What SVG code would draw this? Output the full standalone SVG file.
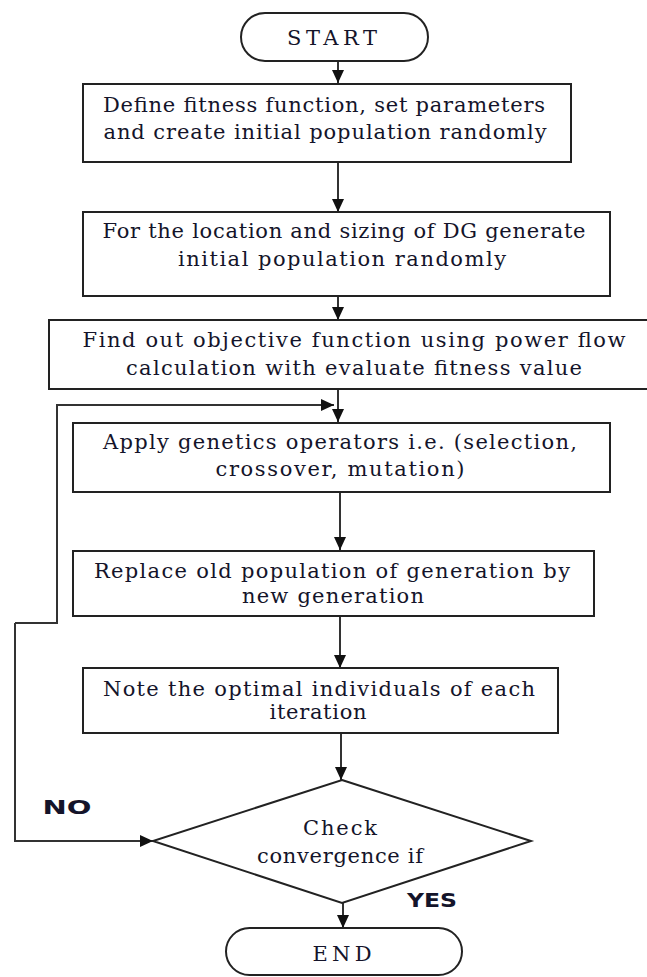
<svg xmlns="http://www.w3.org/2000/svg" width="647" height="977" viewBox="0 0 647 977">
<style>
.box{fill:#fff;stroke:#222;stroke-width:2}
.t{font-family:'DejaVu Serif','Liberation Serif',serif;font-size:21px;fill:#14142a;text-anchor:middle}
.lbl{font-family:'DejaVu Sans','Liberation Sans',sans-serif;font-size:19px;font-weight:bold;fill:#14142a;text-anchor:middle}
.c{fill:none;stroke:#333;stroke-width:2}
</style>
<defs>
<marker id="ah" markerUnits="userSpaceOnUse" markerWidth="13" markerHeight="12" refX="13" refY="6" orient="auto">
<path d="M0,0 L13,6 L0,12 z" fill="#111"/>
</marker>
</defs>
<rect width="647" height="977" fill="#fff"/>
<g id="connectors">
<line class="c" x1="338" y1="61" x2="338" y2="83" marker-end="url(#ah)"/>
<line class="c" x1="338" y1="162" x2="338" y2="212" marker-end="url(#ah)"/>
<line class="c" x1="338" y1="296" x2="338" y2="320" marker-end="url(#ah)"/>
<line class="c" x1="338" y1="389" x2="338" y2="422" marker-end="url(#ah)"/>
<line class="c" x1="340" y1="492" x2="340" y2="550" marker-end="url(#ah)"/>
<line class="c" x1="340" y1="616" x2="340" y2="668" marker-end="url(#ah)"/>
<line class="c" x1="341" y1="733" x2="341" y2="780" marker-end="url(#ah)"/>
<line class="c" x1="343" y1="903" x2="343" y2="928" marker-end="url(#ah)"/>
<path class="c" d="M15,623 L15,841 L153,841" marker-end="url(#ah)"/>
<path class="c" d="M15,623 L57,623 L57,405 L334,405" marker-end="url(#ah)" stroke="#555"/>
</g>
<g id="start" font-family="DejaVu Serif, serif">
<rect class="box" x="241" y="13" width="187" height="48" rx="24"/>
<text class="t" x="332" y="45" textLength="90" lengthAdjust="spacing">START</text>
</g>
<g id="n1" font-family="DejaVu Serif, serif">
<rect class="box" x="83" y="84" width="488" height="78"/>
<text class="t" x="324" y="112" textLength="442" lengthAdjust="spacing">Define fitness function, set parameters</text>
<text class="t" x="325" y="139" textLength="443" lengthAdjust="spacing">and create initial population randomly</text>
</g>
<g id="n2" font-family="DejaVu Serif, serif">
<rect class="box" x="83" y="212" width="527" height="84"/>
<text class="t" x="344" y="238" textLength="483" lengthAdjust="spacing">For the location and sizing of DG generate</text>
<text class="t" x="342" y="266" textLength="328" lengthAdjust="spacing">initial population randomly</text>
</g>
<g id="n3" font-family="DejaVu Serif, serif">
<rect class="box" x="49" y="320" width="620" height="69"/>
<text class="t" x="354" y="347" textLength="543" lengthAdjust="spacing">Find out objective function using power flow</text>
<text class="t" x="354" y="375" textLength="456" lengthAdjust="spacing">calculation with evaluate fitness value</text>
</g>
<g id="n4" font-family="DejaVu Serif, serif">
<rect class="box" x="73" y="423" width="537" height="69"/>
<text class="t" x="340" y="449" textLength="474" lengthAdjust="spacing">Apply genetics operators i.e. (selection,</text>
<text class="t" x="340" y="476" textLength="249" lengthAdjust="spacing">crossover, mutation)</text>
</g>
<g id="n5" font-family="DejaVu Serif, serif">
<rect class="box" x="73" y="551" width="521" height="65"/>
<text class="t" x="332" y="578" textLength="476" lengthAdjust="spacing">Replace old population of generation by</text>
<text class="t" x="333" y="603" textLength="182" lengthAdjust="spacing">new generation</text>
</g>
<g id="n6" font-family="DejaVu Serif, serif">
<rect class="box" x="83" y="668" width="475" height="65"/>
<text class="t" x="319" y="696" textLength="432" lengthAdjust="spacing">Note the optimal individuals of each</text>
<text class="t" x="318" y="719" textLength="97" lengthAdjust="spacing">iteration</text>
</g>
<g id="decision" font-family="DejaVu Serif, serif">
<polygon class="box" points="342,780 531,841 342,903 153,841"/>
<text class="t" x="340" y="835" textLength="74" lengthAdjust="spacing">Check</text>
<text class="t" x="340" y="863" textLength="166" lengthAdjust="spacing">convergence if</text>
</g>
<g id="end" font-family="DejaVu Serif, serif">
<rect class="box" x="226" y="928" width="236" height="47" rx="23.5"/>
<text class="t" x="342" y="961" textLength="59" lengthAdjust="spacing">END</text>
</g>
<g id="labels">
<text class="lbl" x="67" y="814" textLength="49" lengthAdjust="spacingAndGlyphs">NO</text>
<text class="lbl" x="432" y="907" textLength="50" lengthAdjust="spacingAndGlyphs">YES</text>
</g>
</svg>
